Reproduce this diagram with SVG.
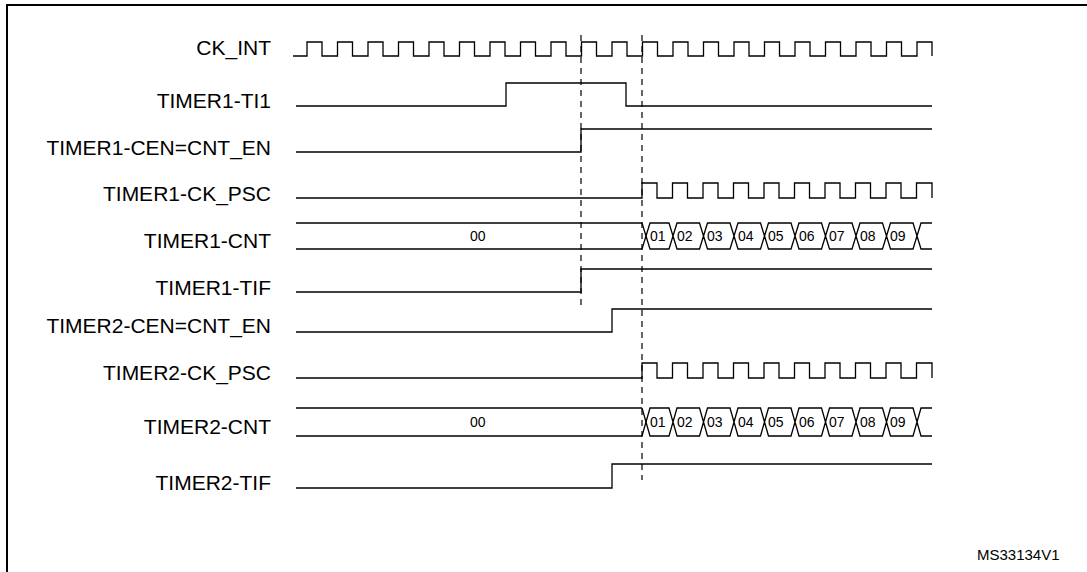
<svg xmlns="http://www.w3.org/2000/svg" width="1087" height="572" viewBox="0 0 1087 572">
<style>
.lbl{font-family:"Liberation Sans",Arial,sans-serif;font-size:21px;fill:#000;text-anchor:end}
.val{font-family:"Liberation Sans",Arial,sans-serif;font-size:14px;fill:#000}
.w{fill:none;stroke:#000;stroke-width:1.3}
.d{fill:none;stroke:#000;stroke-width:1.2;stroke-dasharray:6,5}
</style>
<rect width="1087" height="572" fill="#fff"/>
<path d="M7,572 V5 H1087" fill="none" stroke="#000" stroke-width="2"/>
<g id="labels">
<text class="lbl" x="271" y="55">CK_INT</text>
<text class="lbl" x="271" y="108">TIMER1-TI1</text>
<text class="lbl" x="271" y="155">TIMER1-CEN=CNT_EN</text>
<text class="lbl" x="271" y="201">TIMER1-CK_PSC</text>
<text class="lbl" x="271" y="248">TIMER1-CNT</text>
<text class="lbl" x="271" y="295">TIMER1-TIF</text>
<text class="lbl" x="271" y="333">TIMER2-CEN=CNT_EN</text>
<text class="lbl" x="271" y="380">TIMER2-CK_PSC</text>
<text class="lbl" x="271" y="434">TIMER2-CNT</text>
<text class="lbl" x="271" y="490">TIMER2-TIF</text>
<text x="977" y="560" style="font-family:'Liberation Sans',Arial,sans-serif;font-size:15px">MS33134V1</text>
</g>
<g id="connectors">
<line class="d" x1="581" y1="35" x2="581" y2="305"/>
<line class="d" x1="642" y1="35" x2="642" y2="480"/>
</g>
<g id="ck_int"><path class="w" d="M293,56 H307 V42 H322 V56 H337.5 V42 H352.5 V56 H368 V42 H383 V56 H398.5 V42 H413.5 V56 H429 V42 H444 V56 H459.5 V42 H474.5 V56 H490 V42 H505 V56 H520.5 V42 H535.5 V56 H551 V42 H566 V56 H581.5 V42 H596.5 V56 H612 V42 H627 V56 H642.5 V42 H657.5 V56 H673 V42 H688 V56 H703.5 V42 H718.5 V56 H734 V42 H749 V56 H764.5 V42 H779.5 V56 H795 V42 H810 V56 H825.5 V42 H840.5 V56 H856 V42 H871 V56 H886.5 V42 H901.5 V56 H917 V42 H932 V56"/></g>
<g id="t1_ti1"><path class="w" d="M296,106 H506 V83 H626 V106 H932"/></g>
<g id="t1_cen"><path class="w" d="M296,152 H581 V129 H932"/></g>
<g id="t1_psc"><path class="w" d="M296,198 H642 V183 H657 V198 H672.5 V183 H687.5 V198 H703 V183 H718 V198 H733.5 V183 H748.5 V198 H764 V183 H779 V198 H794.5 V183 H809.5 V198 H825 V183 H840 V198 H855.5 V183 H870.5 V198 H886 V183 H901 V198 H916.5 V183 H932 V198"/></g>
<g id="t1_cnt">
<path class="w" d="M296,223 H642 M296,249 H642"/>
<path class="w" d="M642,223 l4,13 l-4,13"/>
<path class="w" d="M646,236 l4,-13 H669 l4,13 l-4,13 H650 Z M673,236 l4,-13 H699.5 l4,13 l-4,13 H677 Z M703.5,236 l4,-13 H730 l4,13 l-4,13 H707.5 Z M734,236 l4,-13 H760.5 l4,13 l-4,13 H738 Z M764.5,236 l4,-13 H791 l4,13 l-4,13 H768.5 Z M795,236 l4,-13 H821.5 l4,13 l-4,13 H799 Z M825.5,236 l4,-13 H852 l4,13 l-4,13 H829.5 Z M856,236 l4,-13 H882.5 l4,13 l-4,13 H860 Z M886.5,236 l4,-13 H913 l4,13 l-4,13 H890.5 Z M917,236 l4,-13 H932 M917,236 l4,13 H932"/>
<text class="val" x="470" y="241">00</text>
<text class="val" x="650" y="241">01</text><text class="val" x="677" y="241">02</text><text class="val" x="707" y="241">03</text><text class="val" x="738" y="241">04</text><text class="val" x="768" y="241">05</text><text class="val" x="799" y="241">06</text><text class="val" x="829" y="241">07</text><text class="val" x="860" y="241">08</text><text class="val" x="890" y="241">09</text>
</g>
<g id="t1_tif"><path class="w" d="M296,292 H581 V269 H932"/></g>
<g id="t2_cen"><path class="w" d="M296,332 H612 V309 H932"/></g>
<g id="t2_psc"><path class="w" d="M296,378 H642 V363 H657 V378 H672.5 V363 H687.5 V378 H703 V363 H718 V378 H733.5 V363 H748.5 V378 H764 V363 H779 V378 H794.5 V363 H809.5 V378 H825 V363 H840 V378 H855.5 V363 H870.5 V378 H886 V363 H901 V378 H916.5 V363 H932 V378"/></g>
<g id="t2_cnt">
<path class="w" d="M296,408 H642 M296,436 H642"/>
<path class="w" d="M642,408 l4,14 l-4,14"/>
<path class="w" d="M646,422 l4,-14 H669 l4,14 l-4,14 H650 Z M673,422 l4,-14 H699.5 l4,14 l-4,14 H677 Z M703.5,422 l4,-14 H730 l4,14 l-4,14 H707.5 Z M734,422 l4,-14 H760.5 l4,14 l-4,14 H738 Z M764.5,422 l4,-14 H791 l4,14 l-4,14 H768.5 Z M795,422 l4,-14 H821.5 l4,14 l-4,14 H799 Z M825.5,422 l4,-14 H852 l4,14 l-4,14 H829.5 Z M856,422 l4,-14 H882.5 l4,14 l-4,14 H860 Z M886.5,422 l4,-14 H913 l4,14 l-4,14 H890.5 Z M917,422 l4,-14 H932 M917,422 l4,14 H932"/>
<text class="val" x="470" y="427">00</text>
<text class="val" x="650" y="427">01</text><text class="val" x="677" y="427">02</text><text class="val" x="707" y="427">03</text><text class="val" x="738" y="427">04</text><text class="val" x="768" y="427">05</text><text class="val" x="799" y="427">06</text><text class="val" x="829" y="427">07</text><text class="val" x="860" y="427">08</text><text class="val" x="890" y="427">09</text>
</g>
<g id="t2_tif"><path class="w" d="M296,488 H612 V464 H932"/></g>
</svg>
